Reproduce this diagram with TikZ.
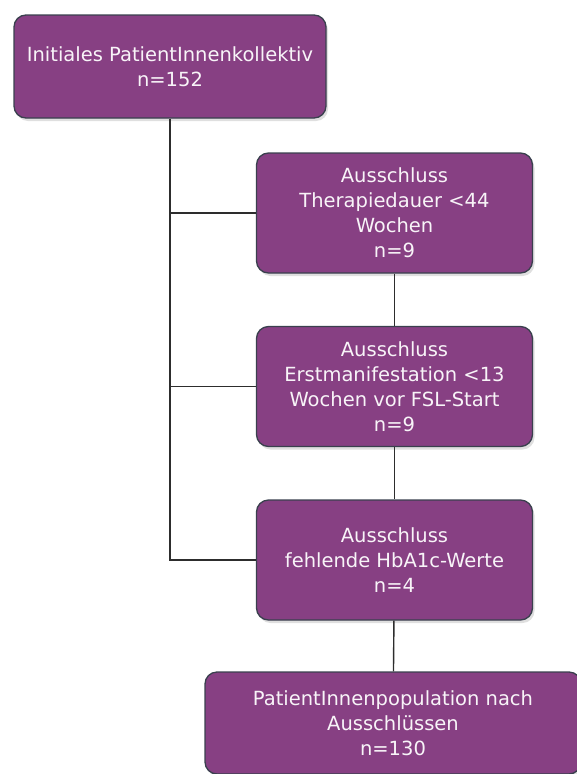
\documentclass[tikz,border=0pt]{standalone}
\usepackage{fontspec}
\setmainfont{DejaVu Sans}
\usetikzlibrary{shadows}
\definecolor{boxfill}{RGB}{135,64,131}
\definecolor{boxline}{RGB}{58,64,78}
\definecolor{linkline}{RGB}{45,45,45}

\begin{document}
\begin{tikzpicture}[x=1pt, y=1pt,
  box/.style={draw=boxline, line width=1.3pt, fill=boxfill, rounded corners=12pt,
    text=white!94!boxfill, align=center, inner sep=0pt, font=\fontsize{19.5}{25}\selectfont,
    drop shadow={opacity=0.25, shadow xshift=2pt, shadow yshift=-3pt}},
  link/.style={draw=linkline, line width=1.4pt}]
  \useasboundingbox (0,0) rectangle (576,-774);
  \node[box, minimum width=312pt, minimum height=103pt] (start) at (170,-66.5) {Initiales PatientInnenkollektiv\\n=152};
  \node[box, minimum width=276pt, minimum height=120pt] (excl1) at (394.5,-213) {Ausschluss\\Therapiedauer <44\\Wochen\\n=9};
  \node[box, minimum width=276pt, minimum height=120pt] (excl2) at (394.5,-386.5) {Ausschluss\\Erstmanifestation <13\\Wochen vor FSL-Start\\n=9};
  \node[box, minimum width=276pt, minimum height=120pt] (excl3) at (394.5,-560) {Ausschluss\\fehlende HbA1c-Werte\\n=4};
  \node[box, minimum width=376pt, minimum height=102pt] (final) at (393,-723) {PatientInnenpopulation nach\\Ausschlüssen\\n=130};
  % spine with branches to the exclusions
  \draw[link] (start.south) |- (excl3.west);
  \draw[link] (start.south |- excl1.west) -- (excl1.west);
  \draw[link] (start.south |- excl2.west) -- (excl2.west);
  % chain on the right
  \draw[link] (excl1) -- (excl2);
  \draw[link] (excl2) -- (excl3);
  \draw[link] (excl3) -- (final);
\end{tikzpicture}
\end{document}
